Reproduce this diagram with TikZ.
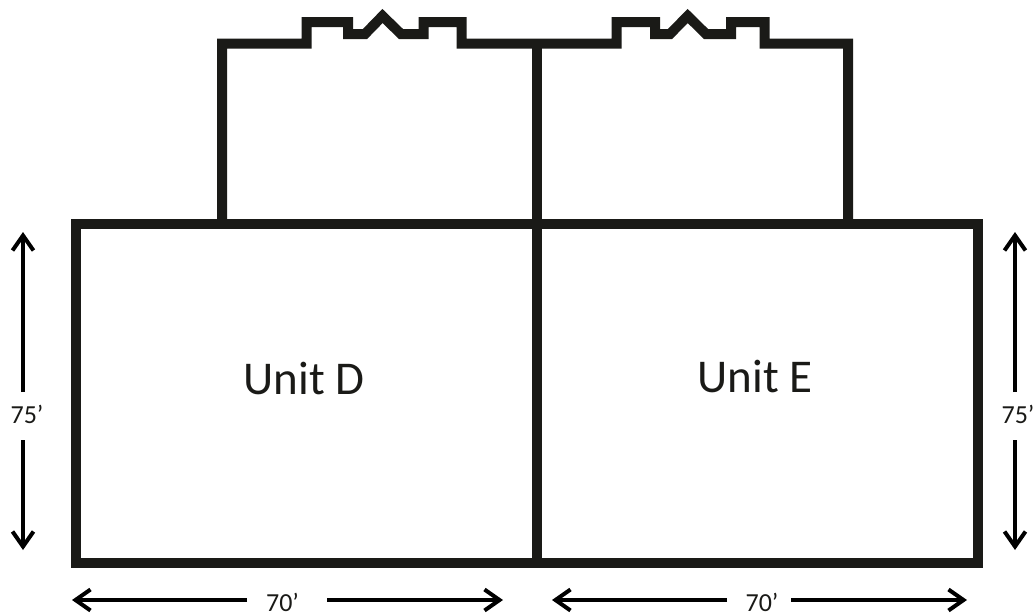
\documentclass[tikz,border=0pt]{standalone}
\usepackage{fontspec}
\setmainfont{Carlito}
\usetikzlibrary{arrows.meta}
\definecolor{wallink}{HTML}{1A1A17}
\tikzset{
  wall/.style={draw=wallink,line width=10pt,miter limit=10,line join=miter},
  dimline/.style={draw=black,line width=4pt,-{Straight Barb[length=15pt,width=21pt,line width=4pt]}},
  dimlabel/.style={font=\fontsize{26}{26}\selectfont,inner sep=0pt,text=wallink},
  unitlabel/.style={font=\fontsize{47}{47}\selectfont,inner sep=0pt,text=wallink}
}
\begin{document}
\begin{tikzpicture}[x=1pt,y=-1pt]
\useasboundingbox (0,0) rectangle (1034,616);
\fill[white] (0,0) rectangle (1034,616);
\coordinate (bl) at (76,562.5);
\coordinate (tl) at (76,224);
\coordinate (tr) at (978,224);
\coordinate (br) at (978,562.5);
\coordinate (mb) at (536.5,562.5);
\coordinate (mt) at (536.5,43.5);
\draw[wall] (bl) -- (tl) -- (tr) -- (br) -- cycle;
\draw[wall] (mb) -- (mt);
\draw[wall] (222,224) -- (222,43.5) -- (306.5,43.5) -- (306.5,22) -- (348,22) -- (348,34) -- (365,34) -- (382.5,16) -- (401,34) -- (423.7,34) -- (423.7,22) -- (461.5,22) -- (461.5,43.5) -- (616.5,43.5) -- (616.5,22) -- (655,22) -- (655,34) -- (670,34) -- (687.7,16) -- (706,34) -- (731,34) -- (731,22) -- (764.5,22) -- (764.5,43.5) -- (848,43.5) -- (848,224);
\node[unitlabel] (d) at (304,378) {Unit D};
\node[unitlabel] (e) at (755,376) {Unit E};
\node[dimlabel] (l1) at (27,414) {75’};
\node[dimlabel] (l2) at (1018,414) {75’};
\node[dimlabel] (b1) at (282.5,602) {70’};
\node[dimlabel] (b2) at (762,602) {70’};
\coordinate (l1u) at (23,232); \coordinate (l1d) at (23,550);
\coordinate (l2u) at (1015,232); \coordinate (l2d) at (1015,550);
\coordinate (b1l) at (72,600); \coordinate (b1r) at (503,600);
\coordinate (b2l) at (552,600); \coordinate (b2r) at (967,600);
\coordinate (l1a) at (23,392); \coordinate (l1b) at (23,440);
\coordinate (l2a) at (1015,392); \coordinate (l2b) at (1015,440);
\coordinate (b1a) at (247,600); \coordinate (b1b) at (327,600);
\coordinate (b2a) at (727,600); \coordinate (b2b) at (791,600);
\draw[dimline] (l1a) -- (l1u);
\draw[dimline] (l1b) -- (l1d);
\draw[dimline] (l2a) -- (l2u);
\draw[dimline] (l2b) -- (l2d);
\draw[dimline] (b1a) -- (b1l);
\draw[dimline] (b1b) -- (b1r);
\draw[dimline] (b2a) -- (b2l);
\draw[dimline] (b2b) -- (b2r);
\end{tikzpicture}
\end{document}
